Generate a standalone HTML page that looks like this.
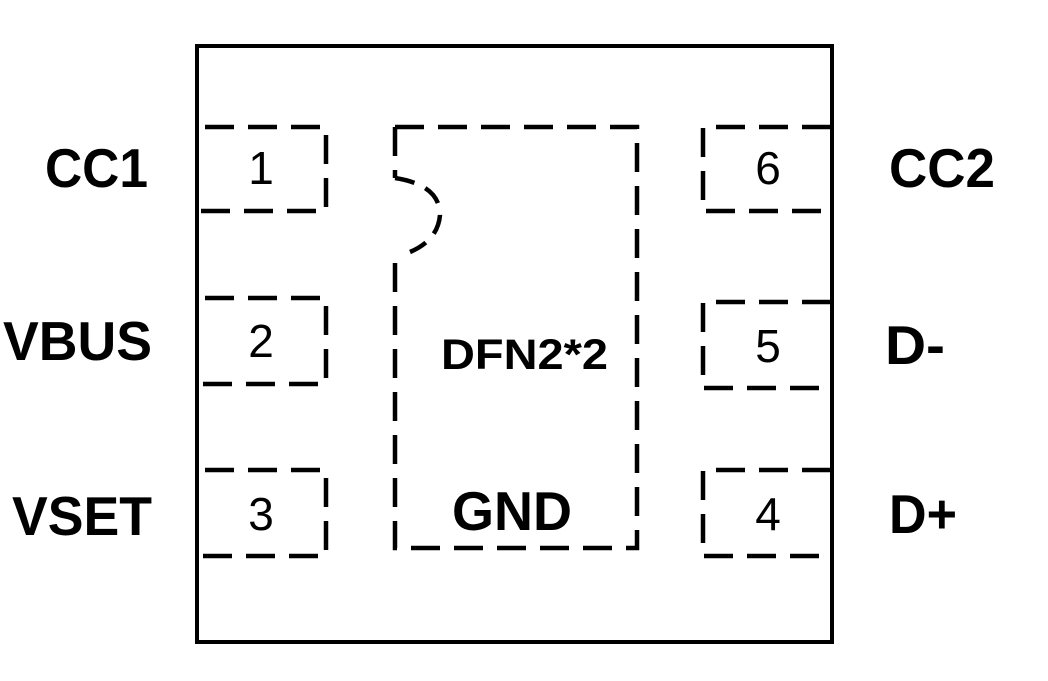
<!DOCTYPE html>
<html><head><style>html,body{margin:0;padding:0;background:#fff}</style></head>
<body>
<svg width="1048" height="676" viewBox="0 0 1048 676" xmlns="http://www.w3.org/2000/svg" font-family="Liberation Sans, Arial, sans-serif">
<rect x="197" y="46" width="635" height="596" fill="none" stroke="#000" stroke-width="4"/>
<g fill="none" stroke="#000" stroke-width="4.5" stroke-dasharray="29,14">
  <path d="M205 127 H326 V211 H198"/>
  <path d="M205 298 H326 V384 H198"/>
  <path d="M205 470 H326 V556 H198"/>
  <path d="M831 127 H703 V211 H831"/>
  <path d="M831 302 H703 V388 H831"/>
  <path d="M831 470 H703 V556 H831"/>
  <path d="M395 127 H637 V548 H395 V254"/>
  <path d="M395 127 V178"/>
</g>
<path d="M395 178 Q440 185 440 215 Q438 240 410 252" fill="none" stroke="#000" stroke-width="4.5" stroke-dasharray="20,12"/>
<g font-weight="bold" font-size="55">
  <text x="45" y="187" textLength="103" lengthAdjust="spacingAndGlyphs">CC1</text>
  <text x="3" y="360" textLength="149" lengthAdjust="spacingAndGlyphs">VBUS</text>
  <text x="12" y="535" textLength="140" lengthAdjust="spacingAndGlyphs">VSET</text>
  <text x="889" y="187" textLength="106" lengthAdjust="spacingAndGlyphs">CC2</text>
  <text x="885" y="364" textLength="60" lengthAdjust="spacingAndGlyphs">D-</text>
  <text x="889" y="533" textLength="68" lengthAdjust="spacingAndGlyphs">D+</text>
  <text x="452" y="530" textLength="120" lengthAdjust="spacingAndGlyphs">GND</text>
  <text x="441" y="369" font-size="43" textLength="167" lengthAdjust="spacingAndGlyphs">DFN2*2</text>
</g>
<g font-size="46" text-anchor="middle">
  <text x="261" y="184">1</text>
  <text x="261" y="357">2</text>
  <text x="261" y="530">3</text>
  <text x="768" y="184">6</text>
  <text x="768" y="362">5</text>
  <text x="768" y="530">4</text>
</g>
</svg>
</body></html>
